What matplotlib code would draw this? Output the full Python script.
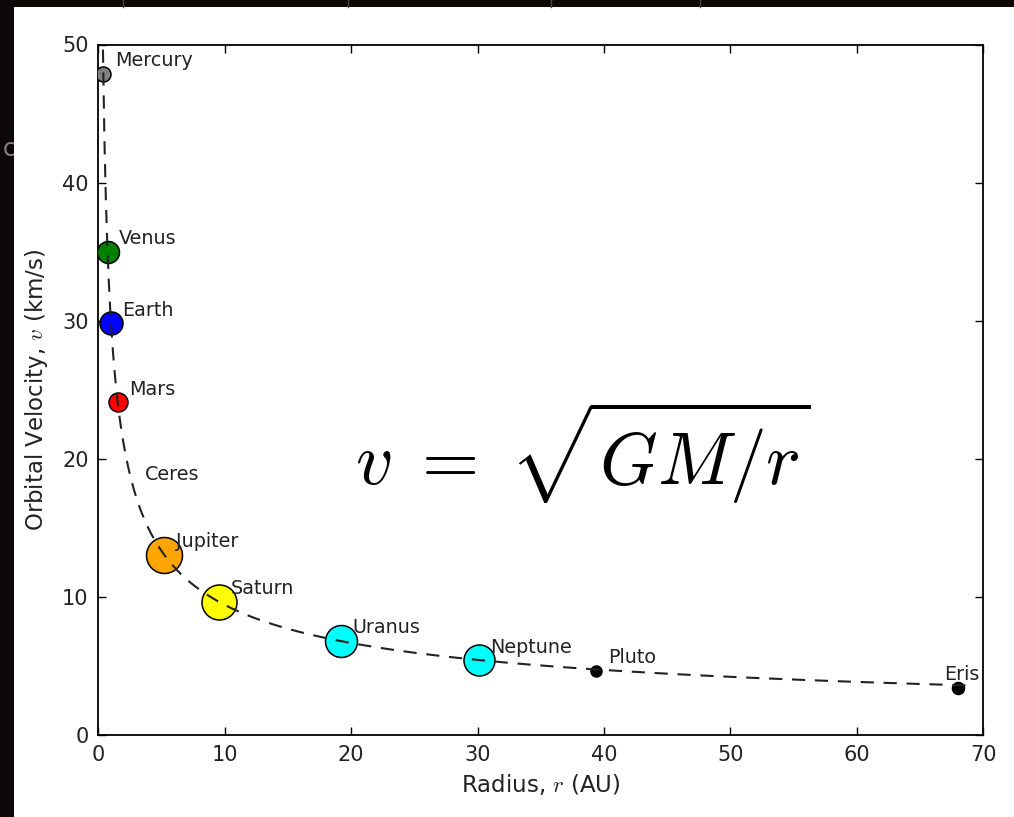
import numpy as np
import matplotlib
matplotlib.use("Agg")
import matplotlib.pyplot as plt
from matplotlib.patches import Rectangle
from matplotlib.lines import Line2D

# ---- data ----
planet_names = ['Mercury', 'Venus', 'Earth', 'Mars', 'Ceres', 'Jupiter',
                'Saturn', 'Uranus', 'Neptune', 'Pluto', 'Eris']
radius_au = [0.39, 0.72, 1.0, 1.52, 2.77, 5.2, 9.55, 19.2, 30.1, 39.4, 68.0]
velocity_kms = [47.9, 35.0, 29.8, 24.1, 17.9, 13.05, 9.65, 6.8, 5.4, 4.65, 3.4]
xticks = [0, 10, 20, 30, 40, 50, 60, 70]
yticks = [0, 10, 20, 30, 40, 50]
# v at 1 AU (km/s) for the model curve v = sqrt(GM/r)
v_earth = 29.78
curve_r_range = (0.36, 69.3)

# ---- styles ----
face_colors = ['grey', 'green', 'blue', 'red', None, 'orange',
               'yellow', 'cyan', 'cyan', 'black', 'black']
marker_px = [15, 22, 23, 19, 0, 36, 35, 32, 31, 11, 12]

plt.rcParams['mathtext.fontset'] = 'cm'
plt.rcParams['font.family'] = ['DejaVu Sans']
plt.rcParams['lines.scale_dashes'] = False

W, H = 1014, 817
dpi = 100
fig = plt.figure(figsize=(W / dpi, H / dpi), dpi=dpi, facecolor='#0d0807')

# screenshot frame: white window on a dark background
fig.add_artist(Rectangle((14 / W, 0), 1 - 14 / W, (H - 7) / H,
                         transform=fig.transFigure, facecolor='white',
                         edgecolor='none', zorder=-1))
for xp in [123, 348, 551, 700]:
    fig.add_artist(Line2D([xp / W, xp / W], [1 - 7 / H, 1],
                          transform=fig.transFigure, color='#4a4542',
                          lw=1, zorder=-1))
fig.text(3 / W, 1 - 149 / H, 'c', color='#808080', fontsize=17,
         va='center', ha='left', zorder=-2)

ax = fig.add_axes([98.4 / W, 1 - 735 / H, (983.3 - 98.4) / W, (735 - 44.5) / H])
ax.set_facecolor('white')

# model curve
r_curve = np.linspace(curve_r_range[0], curve_r_range[1], 600)
v_curve = np.sqrt(v_earth ** 2 / r_curve)
ax.plot(r_curve, v_curve, color='#222222', lw=1.5, dashes=(9.5, 7), zorder=5)

for name, r, v, fc, mp in zip(planet_names, radius_au, velocity_kms,
                              face_colors, marker_px):
    if fc is not None:
        ax.plot([r], [v], 'o', markersize=mp * 72 / dpi, markerfacecolor=fc,
                markeredgecolor='black', markeredgewidth=1.1, zorder=4)
    if name == 'Eris':
        ax.text(r + 0.3, v + 0.95, name, ha='center', va='center',
                fontsize=13.8, color='#222222', zorder=6)
    else:
        ax.text(r + 0.9, v + 0.95, name, ha='left', va='center',
                fontsize=13.8, color='#222222', zorder=6)

ax.text(20.3, 18.1, r'$v\;=\;\sqrt{GM/r}$', fontsize=53, ha='left',
        va='baseline', color='black', zorder=6)

ax.set_xlim(0, 70)
ax.set_ylim(0, 50)
ax.set_xticks(xticks)
ax.set_yticks(yticks)
ax.tick_params(direction='in', length=5.8, width=1, top=True, right=True,
               labelsize=15, pad=7, colors='black')
ax.tick_params(axis='x', labelcolor='#222222')
ax.tick_params(axis='y', labelcolor='#222222')
for s in ax.spines.values():
    s.set_linewidth(1.3)
ax.set_xlabel(r'Radius, $r$ (AU)', fontsize=16.5, color='#222222', labelpad=5)
ax.set_ylabel(r'Orbital Velocity, $v$ (km/s)', fontsize=16.5, color='#222222',
              labelpad=9)

fig.savefig('out.png', dpi=dpi, facecolor=fig.get_facecolor())
